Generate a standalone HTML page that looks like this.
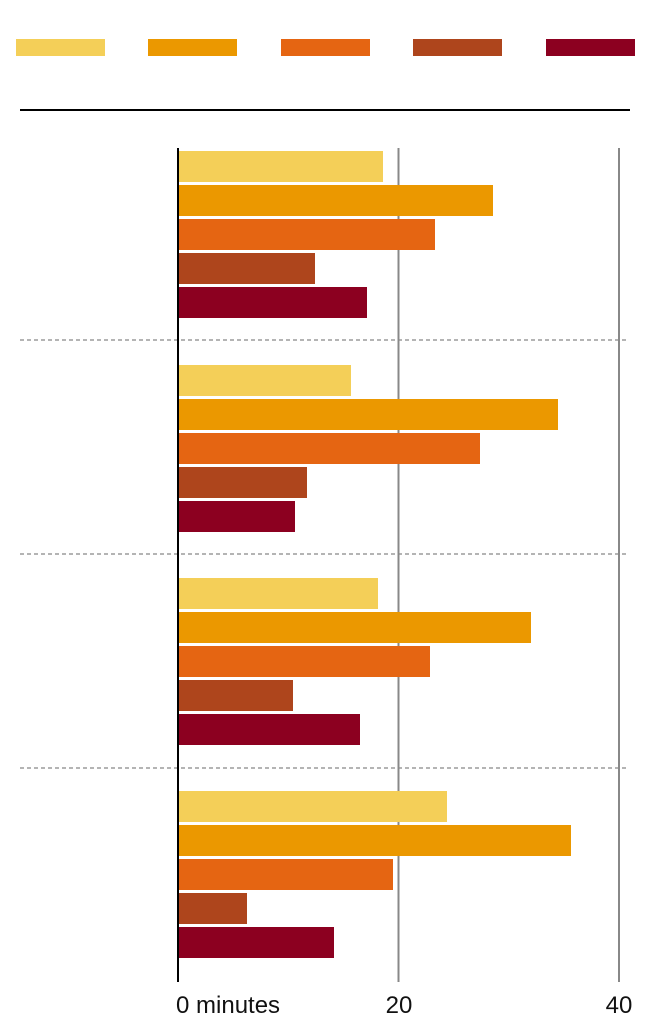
<!DOCTYPE html>
<html><head><meta charset="utf-8"><style>
html,body{margin:0;padding:0;background:#fff;}
svg{display:block;}
text{font-family:"Liberation Sans",sans-serif;font-size:24px;fill:#111;}
</style></head><body>
<svg width="650" height="1022" viewBox="0 0 650 1022" xmlns="http://www.w3.org/2000/svg">
<rect x="16" y="39" width="89" height="17" fill="#f4cf58"/>
<rect x="148" y="39" width="89" height="17" fill="#eb9800"/>
<rect x="281" y="39" width="89" height="17" fill="#e56512"/>
<rect x="413" y="39" width="89" height="17" fill="#ae451c"/>
<rect x="546" y="39" width="89" height="17" fill="#8c0020"/>
<rect x="20" y="109" width="610" height="2" fill="#000"/>
<line x1="398.5" y1="148" x2="398.5" y2="982" stroke="#888" stroke-width="2"/>
<line x1="619" y1="148" x2="619" y2="982" stroke="#888" stroke-width="2"/>
<g stroke="#888" stroke-width="1.3" stroke-dasharray="4,3">
<line x1="20" y1="340" x2="628" y2="340"/>
<line x1="20" y1="554" x2="628" y2="554"/>
<line x1="20" y1="768" x2="628" y2="768"/>
</g>
<g>
<rect x="178" y="151" width="205" height="31" fill="#f4cf58"/>
<rect x="178" y="185" width="315" height="31" fill="#eb9800"/>
<rect x="178" y="219" width="257" height="31" fill="#e56512"/>
<rect x="178" y="253" width="137" height="31" fill="#ae451c"/>
<rect x="178" y="287" width="189" height="31" fill="#8c0020"/>

<rect x="178" y="365" width="173" height="31" fill="#f4cf58"/>
<rect x="178" y="399" width="380" height="31" fill="#eb9800"/>
<rect x="178" y="433" width="302" height="31" fill="#e56512"/>
<rect x="178" y="467" width="129" height="31" fill="#ae451c"/>
<rect x="178" y="501" width="117" height="31" fill="#8c0020"/>

<rect x="178" y="578" width="200" height="31" fill="#f4cf58"/>
<rect x="178" y="612" width="353" height="31" fill="#eb9800"/>
<rect x="178" y="646" width="252" height="31" fill="#e56512"/>
<rect x="178" y="680" width="115" height="31" fill="#ae451c"/>
<rect x="178" y="714" width="182" height="31" fill="#8c0020"/>

<rect x="178" y="791" width="269" height="31" fill="#f4cf58"/>
<rect x="178" y="825" width="393" height="31" fill="#eb9800"/>
<rect x="178" y="859" width="215" height="31" fill="#e56512"/>
<rect x="178" y="893" width="69" height="31" fill="#ae451c"/>
<rect x="178" y="927" width="156" height="31" fill="#8c0020"/>
</g>
<line x1="178" y1="148" x2="178" y2="982" stroke="#000" stroke-width="2"/>
<text x="176" y="1013">0 minutes</text>
<text x="399" y="1013" text-anchor="middle">20</text>
<text x="619" y="1013" text-anchor="middle">40</text>
</svg>
</body></html>
